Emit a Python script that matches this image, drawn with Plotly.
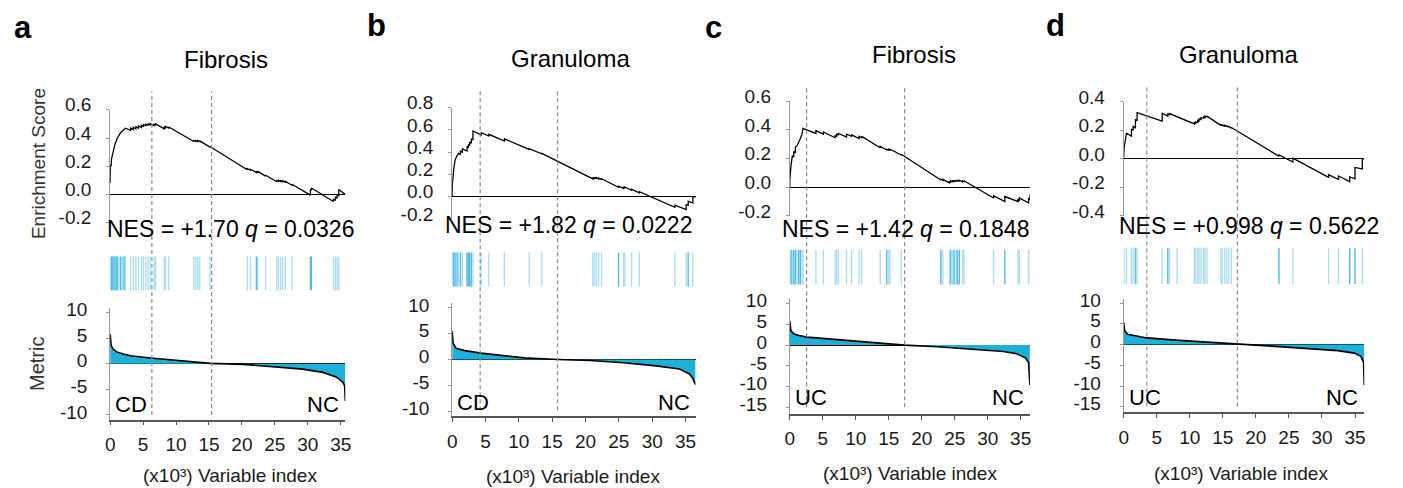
import plotly.graph_objects as go

# ---------------------------------------------------------------- data
x_ticks = [0, 5, 10, 15, 20, 25, 30, 35]

letters = ["a", "b", "c", "d"]
titles = ["Fibrosis", "Granuloma", "Fibrosis", "Granuloma"]
nes_vals = ["+1.70", "+1.82", "+1.42", "+0.998"]
q_vals = ["0.0326", "0.0222", "0.1848", "0.5622"]
left_groups = ["CD", "CD", "UC", "UC"]
right_groups = ["NC", "NC", "NC", "NC"]
n_genes = [35.7, 36.5, 36.4, 36.4]          # (x10^3) variables
lead_lines = [(6.33, 15.4), (4.2, 15.8), (2.55, 17.4), (3.5, 17.2)]

es_ticks = [[-0.2, 0.0, 0.2, 0.4, 0.6],
            [-0.2, 0.0, 0.2, 0.4, 0.6, 0.8],
            [-0.2, 0.0, 0.2, 0.4, 0.6],
            [-0.4, -0.2, 0.0, 0.2, 0.4]]
met_ticks = [[-10, -5, 0, 5, 10],
             [-10, -5, 0, 5, 10],
             [-15, -10, -5, 0, 5, 10],
             [-15, -10, -5, 0, 5, 10]]

# running enrichment score (x in thousands, ES)
es_a = [(0.00, 0.08), (0.05, 0.21), (0.15, 0.20), (0.20, 0.25), (0.40, 0.30), (0.60, 0.33),
        (0.76, 0.36), (0.90, 0.38), (1.10, 0.40), (1.36, 0.42), (1.60, 0.44), (1.87, 0.45),
        (2.10, 0.46), (2.30, 0.47), (3.10, 0.455), (3.10, 0.47), (3.50, 0.46), (3.50, 0.475),
        (3.90, 0.465), (3.90, 0.48), (4.30, 0.47), (4.30, 0.485), (4.75, 0.475), (4.75, 0.49),
        (5.05, 0.483), (5.05, 0.495), (5.40, 0.487), (5.40, 0.498), (5.75, 0.49), (5.75, 0.50),
        (6.06, 0.493), (6.06, 0.502), (6.67, 0.488), (6.67, 0.498), (6.90, 0.493), (6.90, 0.50),
        (8.20, 0.465), (8.20, 0.477), (8.40, 0.472), (8.40, 0.483), (8.90, 0.47), (8.90, 0.478),
        (12.70, 0.375), (12.70, 0.382), (13.00, 0.375), (13.00, 0.382), (13.30, 0.375),
        (13.30, 0.382), (13.60, 0.375), (13.60, 0.38), (15.15, 0.335), (15.15, 0.34),
        (20.80, 0.175), (20.80, 0.183), (21.30, 0.171), (21.30, 0.178), (22.20, 0.155),
        (22.20, 0.162), (22.40, 0.157), (22.40, 0.163), (23.60, 0.13), (23.60, 0.136),
        (25.30, 0.09), (25.30, 0.098), (25.55, 0.092), (25.55, 0.10), (25.90, 0.091),
        (25.90, 0.098), (26.20, 0.09), (26.20, 0.096), (26.60, 0.086), (26.60, 0.092),
        (27.60, 0.065), (27.60, 0.072), (30.40, -0.005), (30.40, 0.035), (30.55, 0.03),
        (30.55, 0.045), (33.90, -0.05), (33.90, -0.035), (34.20, -0.04), (34.20, -0.02),
        (34.45, -0.025), (34.45, -0.005), (34.70, -0.01), (34.70, 0.035), (35.70, 0.0)]

es_b = [(0.00, 0.00), (0.04, 0.12), (0.24, 0.25), (0.44, 0.33), (0.74, 0.37), (0.94, 0.39),
        (1.24, 0.38), (1.24, 0.41), (1.53, 0.40), (1.53, 0.43), (2.23, 0.41), (2.23, 0.45),
        (2.43, 0.44), (2.43, 0.47), (2.62, 0.46), (2.62, 0.49), (2.87, 0.48), (2.87, 0.52),
        (3.12, 0.51), (3.12, 0.59), (4.36, 0.555), (4.36, 0.575), (5.50, 0.545), (5.50, 0.56),
        (7.83, 0.50), (7.83, 0.52), (11.55, 0.425), (11.55, 0.432), (13.44, 0.385),
        (13.44, 0.39), (21.10, 0.16), (21.10, 0.168), (21.30, 0.163), (21.30, 0.172),
        (21.60, 0.165), (21.60, 0.172), (21.97, 0.161), (21.97, 0.168), (22.40, 0.155),
        (22.40, 0.162), (24.95, 0.085), (24.95, 0.095), (25.70, 0.075), (25.70, 0.085),
        (25.90, 0.08), (25.90, 0.088), (26.90, 0.058), (26.90, 0.068), (28.07, 0.035),
        (28.07, 0.045), (33.40, -0.095), (33.40, -0.075), (35.10, -0.115), (35.10, -0.07),
        (35.40, -0.077), (35.40, -0.04), (36.10, -0.057), (36.10, 0.0), (36.50, 0.0)]

es_c = [(0.00, 0.00), (0.00, 0.05), (0.20, 0.16), (0.40, 0.22), (0.60, 0.21), (0.60, 0.25),
        (0.85, 0.24), (0.85, 0.28), (1.10, 0.29), (1.35, 0.31), (1.60, 0.34), (1.85, 0.37),
        (2.00, 0.41), (3.96, 0.375), (3.96, 0.395), (5.10, 0.37), (5.10, 0.385),
        (6.87, 0.345), (6.87, 0.36), (7.10, 0.355), (7.10, 0.37), (7.37, 0.365),
        (7.37, 0.375), (8.60, 0.35), (8.60, 0.37), (9.37, 0.355), (9.37, 0.365),
        (10.50, 0.34), (10.50, 0.355), (10.90, 0.345), (10.90, 0.355), (13.70, 0.275),
        (13.70, 0.285), (14.70, 0.26), (14.70, 0.265), (15.00, 0.258), (15.00, 0.265),
        (15.20, 0.26), (15.20, 0.265), (16.90, 0.225), (16.90, 0.23), (22.90, 0.05),
        (22.90, 0.055), (23.20, 0.048), (23.20, 0.055), (24.20, 0.03), (24.20, 0.04),
        (24.40, 0.035), (24.40, 0.045), (24.70, 0.038), (24.70, 0.045), (24.90, 0.04),
        (24.90, 0.048), (25.20, 0.04), (25.20, 0.048), (25.40, 0.042), (25.40, 0.05),
        (25.70, 0.04), (25.70, 0.05), (26.20, 0.035), (26.20, 0.045), (26.40, 0.04),
        (26.40, 0.045), (30.90, -0.075), (30.90, -0.06), (32.60, -0.10), (32.60, -0.065),
        (34.60, -0.10), (34.60, -0.085), (34.80, -0.09), (34.80, -0.075), (36.20, -0.11),
        (36.20, -0.08), (36.40, -0.085), (36.40, -0.05)]

es_d = [(0.00, 0.00), (0.07, 0.08), (0.43, 0.18), (1.18, 0.16), (1.18, 0.21), (1.43, 0.20),
        (1.43, 0.23), (1.78, 0.215), (1.78, 0.275), (2.03, 0.27), (2.03, 0.325),
        (5.83, 0.265), (5.83, 0.32), (6.68, 0.30), (6.68, 0.315), (6.93, 0.31), (6.93, 0.318),
        (8.08, 0.295), (8.08, 0.30), (10.70, 0.245), (10.70, 0.255), (10.90, 0.25),
        (10.90, 0.26), (11.20, 0.255), (11.20, 0.27), (11.40, 0.265), (11.40, 0.28),
        (11.70, 0.275), (11.70, 0.29), (12.10, 0.285), (12.10, 0.295), (12.30, 0.29),
        (12.30, 0.30), (12.60, 0.295), (12.60, 0.30), (14.70, 0.235), (14.70, 0.24),
        (14.90, 0.235), (14.90, 0.24), (15.30, 0.228), (15.30, 0.235), (15.60, 0.228),
        (15.60, 0.233), (15.90, 0.223), (15.90, 0.228), (16.30, 0.215), (16.30, 0.22),
        (23.50, 0.018), (23.50, 0.028), (25.60, -0.022), (25.60, 0.005), (31.00, -0.13),
        (31.00, -0.11), (32.50, -0.145), (32.50, -0.12), (34.20, -0.16), (34.20, -0.127),
        (35.00, -0.14), (35.00, -0.06), (36.10, -0.07), (36.10, 0.0), (36.40, 0.0)]

# ranked metric (x in thousands, metric)
met_a = [(0.0, 5.8), (0.05, 4.3), (0.15, 3.6), (0.4, 2.9), (1.0, 2.3), (2.0, 1.9), (3.1, 1.55),
         (6.1, 1.12), (10.2, 0.67), (15.2, 0.05), (20.2, -0.13), (25.2, -0.63), (29.2, -1.07),
         (32.3, -1.7), (34.3, -2.6), (35.3, -3.6), (35.6, -4.3), (35.7, -7.3)]
met_b = [(0.0, 5.5), (0.05, 4.2), (0.15, 3.1), (0.6, 2.16), (1.9, 1.72), (4.3, 1.23),
         (7.3, 0.74), (10.8, 0.31), (15.8, 0.0), (20.7, -0.18), (25.7, -0.62), (30.6, -1.23),
         (34.1, -1.85), (35.6, -2.8), (36.1, -3.7), (36.5, -4.9)]
met_c = [(0.0, 5.8), (0.05, 4.3), (0.15, 3.5), (0.6, 2.7), (1.35, 2.3), (2.6, 1.92),
         (6.4, 1.38), (11.4, 0.77), (17.4, 0.0), (22.4, -0.38), (27.4, -0.92), (32.4, -1.54),
         (34.4, -2.07), (35.7, -3.07), (36.2, -4.2), (36.4, -9.6)]
met_d = [(0.0, 5.4), (0.05, 4.1), (0.15, 3.3), (0.6, 2.5), (1.6, 2.14), (3.5, 1.6),
         (8.4, 1.0), (13.4, 0.46), (17.2, 0.0), (22.4, -0.39), (27.4, -0.92), (32.4, -1.47),
         (34.9, -2.07), (35.9, -2.85), (36.3, -4.4), (36.4, -9.8)]

# gene-set hit positions (x10^3); "strong" = darker marks
hits_a = [0.0, 0.2, 0.4, 0.6, 0.76, 0.9, 1.1, 1.36, 1.6, 1.87, 2.1, 2.3, 3.1, 3.5, 3.9, 4.3,
          4.75, 5.05, 5.4, 5.75, 6.06, 6.67, 6.9, 8.2, 8.4, 8.9, 12.7, 13.0, 13.3, 13.6, 15.15,
          20.8, 21.3, 22.2, 22.4, 23.6, 25.3, 25.55, 25.9, 26.2, 26.6, 27.6, 30.4, 30.55,
          33.9, 34.2, 34.45, 34.7]
strong_a = [0.2, 0.4, 0.6, 0.9, 1.1, 1.6, 2.1, 22.2, 30.4, 30.55]
hits_b = [0.04, 0.24, 0.44, 0.74, 0.94, 1.24, 1.53, 2.23, 2.43, 2.62, 2.87, 3.12, 4.36, 5.5,
          7.83, 11.55, 13.44, 21.1, 21.3, 21.6, 21.97, 22.4, 24.95, 25.7, 25.9, 26.9, 28.07,
          33.4, 35.1, 35.4, 36.1]
strong_b = [0.24, 0.44, 0.74, 1.24, 2.23, 2.43, 2.62, 2.87, 24.95, 35.4]
hits_c = [0.0, 0.2, 0.4, 0.6, 0.85, 1.1, 1.35, 1.6, 1.85, 2.0, 3.96, 5.1, 6.87, 7.1, 7.37,
          8.6, 9.37, 10.5, 10.9, 13.7, 14.7, 15.0, 15.2, 16.9, 22.9, 23.2, 24.2, 24.4, 24.7,
          24.9, 25.2, 25.4, 25.7, 26.2, 26.4, 30.9, 32.6, 34.6, 34.8, 36.2, 36.45]
strong_c = [0.2, 0.6, 0.85, 1.35, 1.6, 14.7, 22.9, 24.4, 24.9, 25.4, 25.7, 32.6]
hits_d = [0.07, 0.43, 1.18, 1.43, 1.78, 2.03, 5.83, 6.68, 6.93, 8.08, 10.7, 10.9, 11.2, 11.4,
          11.7, 12.1, 12.3, 12.6, 14.7, 14.9, 15.3, 15.6, 15.9, 16.3, 23.5, 25.6, 31.0, 32.5,
          34.2, 35.0, 36.1]
strong_d = [1.78, 6.68, 23.5, 34.2, 35.0]

es_all = [es_a, es_b, es_c, es_d]
met_all = [met_a, met_b, met_c, met_d]
hits_all = [hits_a, hits_b, hits_c, hits_d]
strong_all = [strong_a, strong_b, strong_c, strong_d]

# ---------------------------------------------------------------- layout geometry (pixels)
W, H = 1403, 488
geom = [
    dict(x0=106, x1=343, es=(99, 217), hit=(252, 288), met=(306, 422.7), dash=(80, 418),
         met_range=[-10.9, 10.9], letter=(18, 13), title=(223, 47), nes=(227, 224),
         grp_y=407, xt=(227, 481)),
    dict(x0=450.7, x1=696, es=(96.7, 213.3), hit=(248, 284), met=(300.7, 419.3), dash=(79, 413),
         met_range=[-11.0, 11.0], letter=(374, 11), title=(570, 45), nes=(568, 219),
         grp_y=405, xt=(572, 482)),
    dict(x0=791, x1=1033, es=(90, 210), hit=(245, 282), met=(296.7, 416.7), dash=(74, 410),
         met_range=[-16.5, 11.1], letter=(714, 13), title=(916, 41), nes=(908, 224),
         grp_y=400, xt=(912, 479)),
    dict(x0=1127.5, x1=1370, es=(90.7, 210), hit=(243, 281), met=(296.7, 415), dash=(74, 409),
         met_range=[-16.3, 11.0], letter=(1059, 11), title=(1243, 41), nes=(1254, 221),
         grp_y=400, xt=(1246, 479)),
]

FONT = "Liberation Sans, Arial, Helvetica, sans-serif"
TXT = "#1a1a1a"
FILL = "#1fb0da"


def fx(x):
    return x / W


def fy(y):
    return 1 - y / H


def sfx(n):
    return "" if n == 1 else str(n)


def fmt(v):
    return ("%.1f" % v).replace("-0.0", "0.0")


fig = go.Figure()
layout = {}
annotations = []
shapes = []

for i in range(4):
    g = geom[i]
    n_es, n_hit, n_met = 3 * i + 1, 3 * i + 2, 3 * i + 3
    xdom = [fx(g["x0"]), fx(g["x1"])]
    xr = [0, n_genes[i]]

    # ---- enrichment score
    es = es_all[i]
    fig.add_trace(go.Scatter(x=[p[0] for p in es], y=[p[1] for p in es], mode="lines",
                             line=dict(color="black", width=1.3), hoverinfo="skip",
                             xaxis="x" + sfx(n_es), yaxis="y" + sfx(n_es), showlegend=False))
    et = es_ticks[i]
    layout["xaxis" + sfx(n_es)] = dict(domain=xdom, range=xr, visible=False,
                                       anchor="y" + sfx(n_es))
    layout["yaxis" + sfx(n_es)] = dict(
        domain=[fy(g["es"][1]), fy(g["es"][0])], range=[et[0] - 0.0005, et[-1] + 0.0005],
        anchor="x" + sfx(n_es), tickvals=et, ticktext=[fmt(v) for v in et],
        showline=True, linecolor="#9a9a9a", linewidth=1, ticks="outside", ticklen=3,
        tickcolor="#9a9a9a", showgrid=False, zeroline=True, zerolinecolor="black",
        zerolinewidth=1, tickfont=dict(size=19, color=TXT, family=FONT),
        ticklabelshift=-5, ticklabelstandoff=11)

    # ---- hits barcode
    hx, hy, sx, sy = [], [], [], []
    for h in hits_all[i]:
        if h in strong_all[i]:
            sx += [h, h, None]
            sy += [0, 1, None]
        else:
            hx += [h, h, None]
            hy += [0, 1, None]
    fig.add_trace(go.Scatter(x=hx, y=hy, mode="lines", line=dict(color="#a9dcf1", width=1.3),
                             hoverinfo="skip", xaxis="x" + sfx(n_hit), yaxis="y" + sfx(n_hit),
                             showlegend=False))
    fig.add_trace(go.Scatter(x=sx, y=sy, mode="lines", line=dict(color="#52bce6", width=1.4),
                             hoverinfo="skip", xaxis="x" + sfx(n_hit), yaxis="y" + sfx(n_hit),
                             showlegend=False))
    layout["xaxis" + sfx(n_hit)] = dict(domain=xdom, range=xr, visible=False,
                                        anchor="y" + sfx(n_hit))
    layout["yaxis" + sfx(n_hit)] = dict(domain=[fy(g["hit"][1]), fy(g["hit"][0])],
                                        range=[0, 1], visible=False, anchor="x" + sfx(n_hit))

    # ---- ranked metric
    mt = met_all[i]
    fig.add_trace(go.Scatter(x=[p[0] for p in mt], y=[p[1] for p in mt], mode="lines",
                             fill="tozeroy", fillcolor=FILL,
                             line=dict(color="black", width=1.6), hoverinfo="skip",
                             xaxis="x" + sfx(n_met), yaxis="y" + sfx(n_met), showlegend=False))
    mk = met_ticks[i]
    layout["xaxis" + sfx(n_met)] = dict(
        domain=xdom, range=xr, anchor="y" + sfx(n_met), tickvals=x_ticks,
        ticktext=[str(v) for v in x_ticks], showline=True, linecolor="#555555", linewidth=1.5,
        ticks="outside", ticklen=4, tickcolor="#555555", showgrid=False, zeroline=False,
        tickfont=dict(size=19, color=TXT, family=FONT), ticklabelstandoff=3)
    layout["yaxis" + sfx(n_met)] = dict(
        domain=[fy(g["met"][1]), fy(g["met"][0])], range=g["met_range"],
        anchor="x" + sfx(n_met), tickvals=mk, ticktext=[str(v) for v in mk],
        showline=True, linecolor="#9a9a9a", linewidth=1, ticks="outside", ticklen=3,
        tickcolor="#9a9a9a", showgrid=False, zeroline=True, zerolinecolor="black",
        zerolinewidth=1, tickfont=dict(size=19, color=TXT, family=FONT),
        ticklabelshift=-3, ticklabelstandoff=15)

    # ---- dashed leading-edge lines
    for d in lead_lines[i]:
        shapes.append(dict(type="line", xref="x" + sfx(n_met), yref="paper", x0=d, x1=d,
                           y0=fy(g["dash"][1]), y1=fy(g["dash"][0]),
                           line=dict(color="#8a8a8a", width=1.2, dash="4px,3px"),
                           layer="above"))

    # ---- texts
    annotations.append(dict(text="<b>%s</b>" % letters[i], x=fx(g["letter"][0]),
                            y=fy(g["letter"][1]), xref="paper", yref="paper",
                            showarrow=False, xanchor="center", yanchor="middle",
                            font=dict(size=31, color="black", family=FONT)))
    annotations.append(dict(text=titles[i], x=fx(g["title"][0]), y=fy(g["title"][1]),
                            xref="paper", yref="paper", showarrow=False, xanchor="center",
                            yanchor="middle", font=dict(size=24, color="black", family=FONT)))
    annotations.append(dict(text="NES = %s <i>q</i> = %s" % (nes_vals[i], q_vals[i]),
                            x=fx(g["nes"][0]), y=fy(g["nes"][1]), xref="paper", yref="paper",
                            showarrow=False, xanchor="center", yanchor="middle",
                            font=dict(size=23, color="black", family=FONT)))
    annotations.append(dict(text=left_groups[i], x=fx(g["x0"] + 3), y=fy(g["grp_y"]),
                            xref="paper", yref="paper", showarrow=False, xanchor="left",
                            yanchor="middle", font=dict(size=22, color="black", family=FONT)))
    annotations.append(dict(text=right_groups[i], x=fx(g["x1"] - 4), y=fy(g["grp_y"]),
                            xref="paper", yref="paper", showarrow=False, xanchor="right",
                            yanchor="middle", font=dict(size=22, color="black", family=FONT)))
    annotations.append(dict(text="(x10\u00b3) Variable index", x=fx(g["xt"][0]),
                            y=fy(g["xt"][1]), xref="paper", yref="paper", showarrow=False,
                            xanchor="center", yanchor="middle",
                            font=dict(size=19, color=TXT, family=FONT)))

annotations.append(dict(text="Enrichment Score", x=fx(34), y=fy(155), xref="paper",
                        yref="paper", showarrow=False, textangle=-90, xanchor="center",
                        yanchor="middle", font=dict(size=19, color="#333333", family=FONT)))
annotations.append(dict(text="Metric", x=fx(33), y=fy(365), xref="paper", yref="paper",
                        showarrow=False, textangle=-90, xanchor="center", yanchor="middle",
                        font=dict(size=20, color="#333333", family=FONT)))

fig.update_layout(width=W, height=H, autosize=False,
                  margin=dict(l=0, r=0, t=0, b=0, pad=0),
                  paper_bgcolor="white", plot_bgcolor="white",
                  annotations=annotations, shapes=shapes,
                  font=dict(family=FONT), **layout)

fig.write_html("out.html", config={"displayModeBar": False},
               post_script="document.body.style.margin='0';")
